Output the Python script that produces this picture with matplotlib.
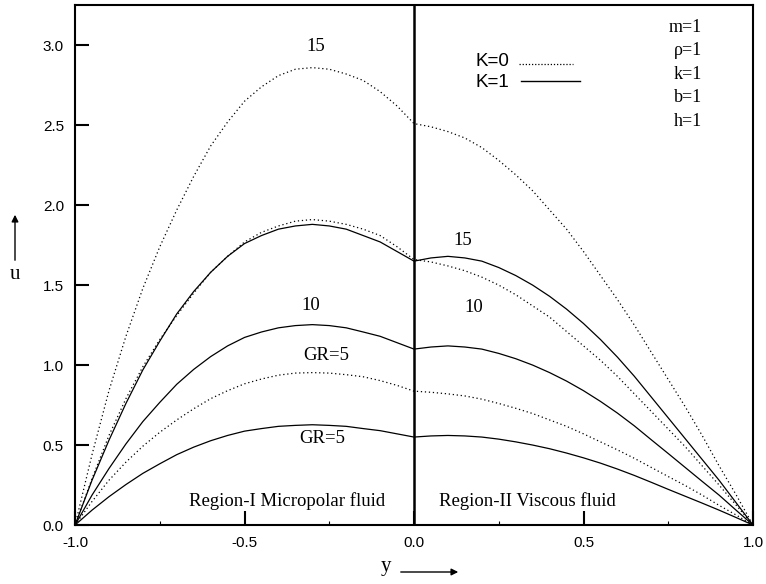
import numpy as np
import matplotlib
matplotlib.use("Agg")
import matplotlib.pyplot as plt
from matplotlib.patches import FancyArrowPatch

# y positions (region I: -1..0, region II: 0..1)
y_left = [-1.0, -0.95, -0.9, -0.85, -0.8, -0.75, -0.7, -0.65, -0.6, -0.55, -0.5,
          -0.45, -0.4, -0.35, -0.3, -0.25, -0.2, -0.15, -0.1, -0.05, 0.0]
y_right = [0.0, 0.05, 0.1, 0.15, 0.2, 0.25, 0.3, 0.35, 0.4, 0.45, 0.5,
           0.55, 0.6, 0.65, 0.7, 0.75, 0.8, 0.85, 0.9, 0.95, 1.0]

# K=0 (dotted)
k0_gr5_left = [0, 0.147, 0.28, 0.393, 0.493, 0.58, 0.657, 0.727, 0.79, 0.84, 0.883,
               0.913, 0.937, 0.95, 0.953, 0.95, 0.94, 0.927, 0.903, 0.873, 0.837]
k0_gr5_right = [0.837, 0.83, 0.82, 0.807, 0.787, 0.76, 0.73, 0.697, 0.657, 0.617, 0.57,
                0.52, 0.47, 0.417, 0.36, 0.303, 0.247, 0.187, 0.123, 0.063, 0]
k0_gr10_left = [0, 0.29, 0.56, 0.79, 0.99, 1.16, 1.31, 1.45, 1.58, 1.68, 1.77,
                1.83, 1.87, 1.90, 1.91, 1.90, 1.88, 1.85, 1.81, 1.74, 1.66]
k0_gr10_right = [1.66, 1.645, 1.62, 1.59, 1.55, 1.50, 1.44, 1.37, 1.30, 1.21, 1.12,
                 1.03, 0.93, 0.82, 0.71, 0.60, 0.49, 0.37, 0.25, 0.125, 0]
k0_gr15_left = [0, 0.44, 0.84, 1.18, 1.48, 1.74, 1.97, 2.18, 2.37, 2.52, 2.65,
                2.74, 2.81, 2.85, 2.86, 2.85, 2.82, 2.78, 2.71, 2.62, 2.51]
k0_gr15_right = [2.51, 2.49, 2.46, 2.42, 2.36, 2.28, 2.19, 2.09, 1.97, 1.85, 1.71,
                 1.56, 1.41, 1.25, 1.08, 0.91, 0.74, 0.56, 0.37, 0.19, 0]

# K=1 (solid)
k1_gr5_left = [0, 0.093, 0.177, 0.253, 0.323, 0.383, 0.44, 0.487, 0.527, 0.56, 0.587,
               0.603, 0.617, 0.623, 0.627, 0.623, 0.617, 0.603, 0.59, 0.57, 0.55]
k1_gr5_right = [0.55, 0.557, 0.56, 0.557, 0.55, 0.537, 0.52, 0.50, 0.477, 0.45, 0.42,
                0.387, 0.35, 0.31, 0.267, 0.223, 0.18, 0.137, 0.093, 0.047, 0]
k1_gr10_left = [0, 0.187, 0.353, 0.507, 0.647, 0.767, 0.88, 0.973, 1.053, 1.12, 1.173,
                1.207, 1.233, 1.247, 1.253, 1.247, 1.233, 1.207, 1.18, 1.14, 1.10]
k1_gr10_right = [1.10, 1.113, 1.12, 1.113, 1.10, 1.073, 1.04, 1.00, 0.953, 0.90, 0.84,
                 0.773, 0.70, 0.62, 0.533, 0.447, 0.36, 0.273, 0.187, 0.093, 0]
k1_gr15_left = [0, 0.28, 0.53, 0.76, 0.97, 1.15, 1.32, 1.46, 1.58, 1.68, 1.76,
                1.81, 1.85, 1.87, 1.88, 1.87, 1.85, 1.81, 1.77, 1.71, 1.65]
k1_gr15_right = [1.65, 1.67, 1.68, 1.67, 1.65, 1.61, 1.56, 1.50, 1.43, 1.35, 1.26,
                 1.16, 1.05, 0.93, 0.80, 0.67, 0.54, 0.41, 0.28, 0.14, 0]

params = ["m=1", "\u03c1=1", "k=1", "b=1", "h=1"]

serif = ["Liberation Serif", "DejaVu Serif"]
sans = ["Liberation Sans", "DejaVu Sans"]

fig = plt.figure(figsize=(7.66, 5.84), dpi=100)
ax = fig.add_axes([0.098, 0.101, 0.885, 0.890])

dot = dict(color="black", lw=0.9, linestyle=(0, (1, 2.2)))
sol = dict(color="black", lw=0.9)

for yl, yr in [(k0_gr5_left, k0_gr5_right), (k0_gr10_left, k0_gr10_right),
               (k0_gr15_left, k0_gr15_right)]:
    ax.plot(y_left + y_right[1:], yl + yr[1:], **dot)
for yl, yr in [(k1_gr5_left, k1_gr5_right), (k1_gr10_left, k1_gr10_right),
               (k1_gr15_left, k1_gr15_right)]:
    ax.plot(y_left + y_right[1:], yl + yr[1:], **sol)

ax.axvline(0, color="black", lw=1.8)

ax.set_xlim(-1, 1)
ax.set_ylim(0, 3.25)
ax.set_xticks([-1.0, -0.5, 0.0, 0.5, 1.0])
ax.set_xticks([-0.75, -0.25, 0.25, 0.75], minor=True)
ax.set_yticks([0.0, 0.5, 1.0, 1.5, 2.0, 2.5, 3.0])
ax.set_xticklabels(["-1.0", "-0.5", "0.0", "0.5", "1.0"], family=sans, fontsize=11)
ax.set_yticklabels(["0.0", "0.5", "1.0", "1.5", "2.0", "2.5", "3.0"], family=sans, fontsize=11)
ax.tick_params(which="major", direction="in", length=10, width=1.5, pad=8)
ax.tick_params(axis="x", which="minor", direction="in", length=3, width=0.8)
for s in ax.spines.values():
    s.set_linewidth(1.5)

# curve labels
fs = 13.5
ax.text(-0.29, 2.99, "15", family=serif, fontsize=fs, ha="center", va="center")
ax.text(-0.305, 1.37, "10", family=serif, fontsize=fs, ha="center", va="center")
ax.text(-0.26, 1.06, "GR=5", family=serif, fontsize=fs, ha="center", va="center")
ax.text(-0.27, 0.54, "GR=5", family=serif, fontsize=fs, ha="center", va="center")
ax.text(0.145, 1.78, "15", family=serif, fontsize=fs, ha="center", va="center")
ax.text(0.177, 1.36, "10", family=serif, fontsize=fs, ha="center", va="center")

ax.text(-0.375, 0.15, "Region-I Micropolar fluid", family=serif, fontsize=fs,
        ha="center", va="center")
ax.text(0.333, 0.15, "Region-II Viscous fluid", family=serif, fontsize=fs,
        ha="center", va="center")

# legend drawn by hand, as in the original
ax.text(0.18, 2.90, "K=0", family=sans, fontsize=13.5, ha="left", va="center")
ax.text(0.18, 2.77, "K=1", family=sans, fontsize=13.5, ha="left", va="center")
ax.plot([0.31, 0.47], [2.885, 2.885], color="black", lw=0.9, linestyle=(0, (1, 1.5)))
ax.plot([0.315, 0.49], [2.775, 2.775], color="black", lw=1.0)

for i, p in enumerate(params):
    ax.text(0.85, 3.11 - 0.146 * i, p, family=serif, fontsize=13, ha="right", va="center")

# axis labels with arrows
fig.text(15 / 766, 1 - 275 / 584, "u", family=serif, fontsize=15, ha="center", va="center")
fig.add_artist(FancyArrowPatch(
    (15 / 766, 1 - 263 / 584), (15 / 766, 1 - 212 / 584), transform=fig.transFigure,
    arrowstyle="-|>", mutation_scale=10, color="black", lw=1.0))
fig.text(386 / 766, 1 - 566 / 584, "y", family=serif, fontsize=15, ha="center", va="center")
fig.add_artist(FancyArrowPatch(
    (398 / 766, 1 - 572 / 584), (461 / 766, 1 - 572 / 584), transform=fig.transFigure,
    arrowstyle="-|>", mutation_scale=10, color="black", lw=1.0))

fig.savefig("out.png", dpi=100)
